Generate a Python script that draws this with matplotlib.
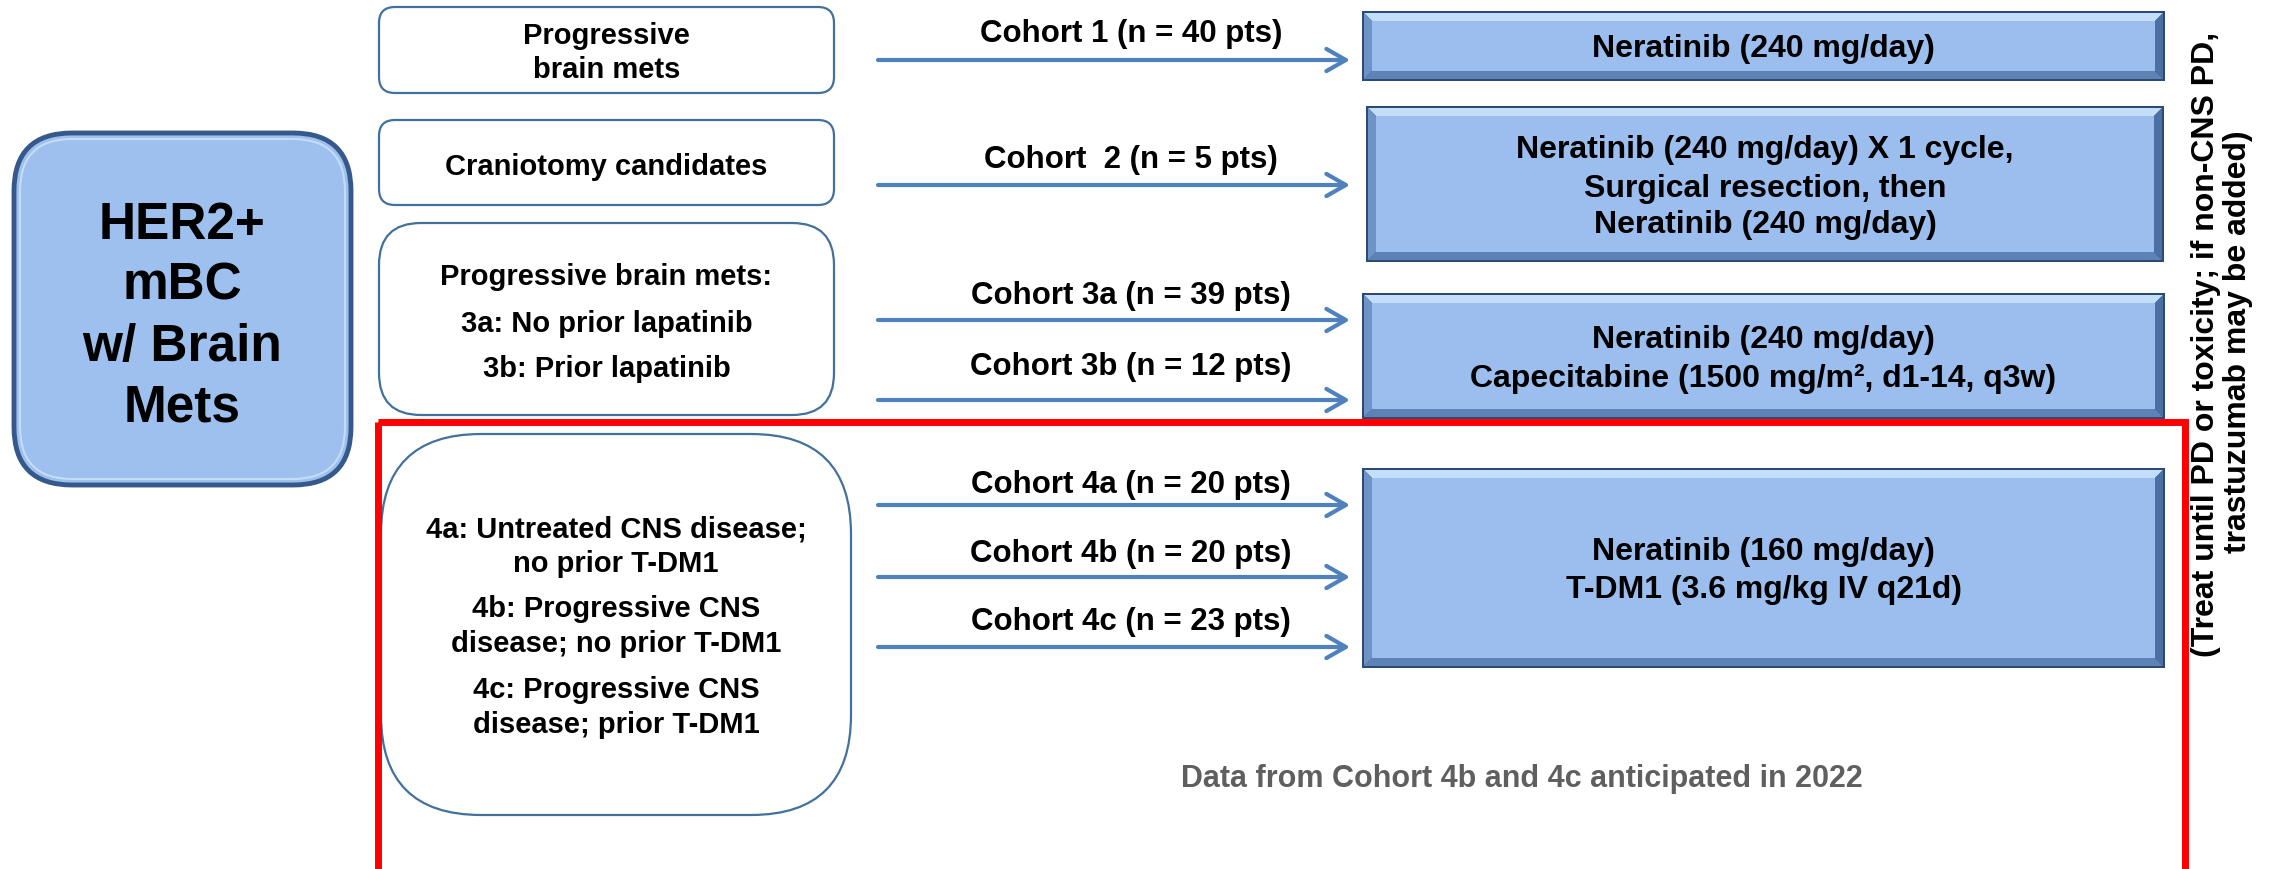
import matplotlib
matplotlib.use("Agg")
import matplotlib.pyplot as plt
from matplotlib.patches import FancyBboxPatch, Rectangle, Polygon, FancyArrowPatch

plt.rcParams['font.family'] = ['Liberation Sans', 'DejaVu Sans']
plt.rcParams['font.weight'] = 'bold'

# content
main_label = ["HER2+", "mBC", "w/ Brain", "Mets"]
patient_groups = [
    ["Progressive", "brain mets"],
    ["Craniotomy candidates"],
    ["Progressive brain mets:", "3a: No prior lapatinib", "3b: Prior lapatinib"],
    ["4a: Untreated CNS disease;", "no prior T-DM1", "4b: Progressive CNS",
     "disease; no prior T-DM1", "4c: Progressive CNS", "disease; prior T-DM1"],
]
cohorts = ["Cohort 1 (n = 40 pts)", "Cohort  2 (n = 5 pts)", "Cohort 3a (n = 39 pts)",
           "Cohort 3b (n = 12 pts)", "Cohort 4a (n = 20 pts)", "Cohort 4b (n = 20 pts)",
           "Cohort 4c (n = 23 pts)"]
treatments = [
    ["Neratinib (240 mg/day)"],
    ["Neratinib (240 mg/day) X 1 cycle,", "Surgical resection, then", "Neratinib (240 mg/day)"],
    ["Neratinib (240 mg/day)", "Capecitabine (1500 mg/m\u00b2, d1-14, q3w)"],
    ["Neratinib (160 mg/day)", "T-DM1 (3.6 mg/kg IV q21d)"],
]
side_note = ["(Treat until PD or toxicity; if non-CNS PD,", "trastuzumab may be added)"]
footnote = "Data from Cohort 4b and 4c anticipated in 2022"

# layout (pixel units, y downward)
W, H = 2279, 869
group_boxes = [(379, 7, 455, 86, 16), (379, 120, 455, 85, 16),
               (379, 223, 455, 192, 42), (381, 434, 470, 381, 100)]
group_baselines = [[44, 78], [175], [285, 332, 377], [537, 572, 617, 652, 698, 733]]
arrow_y = [60, 185, 320, 400, 505, 577, 647]
cohort_baseline = [42, 168, 304, 375, 493, 562, 630]
treat_boxes = [(1364, 13, 799, 66), (1368, 108, 794, 152),
               (1364, 295, 799, 122), (1364, 470, 799, 196)]
treat_baselines = [[57], [158, 197, 233], [348, 387], [560, 598]]

fig = plt.figure(figsize=(W / 100, H / 100), dpi=100)
ax = fig.add_axes([0, 0, 1, 1])
ax.set_xlim(0, W)
ax.set_ylim(H, 0)
ax.axis("off")

# main box
ax.add_patch(FancyBboxPatch((14, 133), 337, 352, boxstyle="round,pad=0,rounding_size=58",
                            fc="#9DC0EE", ec="#35598A", lw=3.5, zorder=2))
ax.add_patch(FancyBboxPatch((20, 139), 325, 340, boxstyle="round,pad=0,rounding_size=52",
                            fc="none", ec="#C6DCF6", lw=1.5, zorder=2))
for i, line in enumerate(main_label):
    ax.text(182, 239 + 61 * i, line, ha="center", va="baseline", fontsize=37,
            fontweight="bold", zorder=3)

# patient group boxes
for (x, y, w, h, r), lines, bls in zip(group_boxes, patient_groups, group_baselines):
    ax.add_patch(FancyBboxPatch((x, y), w, h, boxstyle=f"round,pad=0,rounding_size={r}",
                                fc="white", ec="#41719C", lw=1.6, zorder=2))
    for line, b in zip(lines, bls):
        ax.text(x + w / 2, b, line, ha="center", va="baseline", fontsize=21,
                fontweight="bold", zorder=3)

# arrows and cohort labels
for yy, lab, b in zip(arrow_y, cohorts, cohort_baseline):
    ax.add_patch(FancyArrowPatch((878, yy), (1350, yy),
                                 arrowstyle="->,head_length=14,head_width=8",
                                 mutation_scale=1, color="#4F81BD", lw=3,
                                 shrinkA=0, shrinkB=0, zorder=2))
    ax.text(1131, b, lab, ha="center", va="baseline", fontsize=22.5,
            fontweight="bold", zorder=3)


# bevelled treatment boxes
def bevel_box(x, y, w, h):
    b = 8
    x1, y1 = x + w, y + h
    ax.add_patch(Rectangle((x - 2, y - 2), w + 4, h + 4, fc="#2B4A74", ec="none", zorder=2))
    ax.add_patch(Polygon([(x, y), (x1, y), (x1 - b, y + b), (x + b, y + b)],
                         fc="#C4DDF8", ec="none", zorder=2))
    ax.add_patch(Polygon([(x, y1), (x1, y1), (x1 - b, y1 - b), (x + b, y1 - b)],
                         fc="#5C82B6", ec="none", zorder=2))
    ax.add_patch(Polygon([(x, y), (x + b, y + b), (x + b, y1 - b), (x, y1)],
                         fc="#6E93C7", ec="none", zorder=2))
    ax.add_patch(Polygon([(x1, y), (x1 - b, y + b), (x1 - b, y1 - b), (x1, y1)],
                         fc="#4C70A3", ec="none", zorder=2))
    ax.add_patch(Rectangle((x + b, y + b), w - 2 * b, h - 2 * b, fc="#9BBEEE",
                           ec="none", zorder=2))


for (x, y, w, h), lines, bls in zip(treat_boxes, treatments, treat_baselines):
    bevel_box(x, y, w, h)
    for line, b in zip(lines, bls):
        ax.text(x + w / 2, b, line, ha="center", va="baseline", fontsize=23,
                fontweight="bold", zorder=3)

# red highlight frame (bottom edge runs off the slide)
ax.add_patch(Rectangle((378, 422), 1807, 480, fc="none", ec="#FF0000", lw=5, zorder=4))

ax.text(1522, 787, footnote, ha="center", va="baseline", fontsize=22,
        fontweight="bold", color="#5F5F5F", zorder=3)

# rotated side note
ax.text(2206, 344, side_note[0], rotation=90, ha="center", va="center", fontsize=23,
        fontweight="bold", zorder=3)
ax.text(2238, 342, side_note[1], rotation=90, ha="center", va="center", fontsize=23,
        fontweight="bold", zorder=3)

fig.savefig("out.png", dpi=100, facecolor="white")
